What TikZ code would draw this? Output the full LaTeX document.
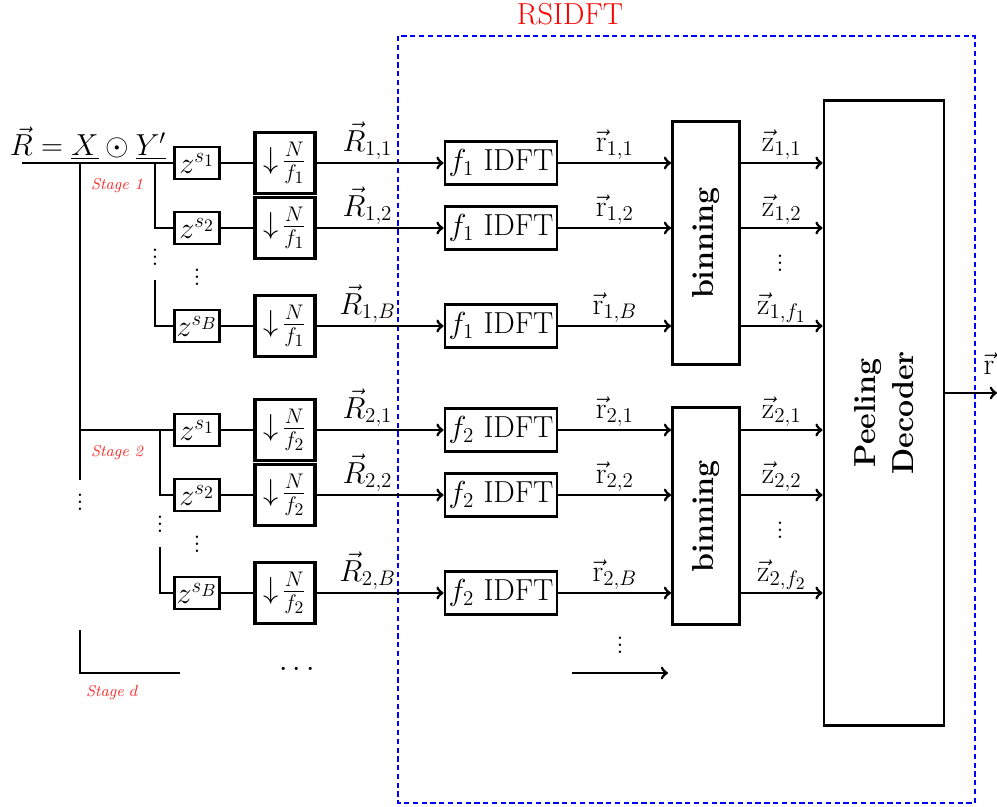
\documentclass[tikz,border=0pt]{standalone}
\providecommand{\RSpx}{0.02}
\providecommand{\RSbig}{\LARGE}
\providecommand{\RSstage}{\small\itshape}
\usepackage{tikz}
\tikzset{
  blk/.style={rectangle, draw=black, line width=1.6pt, fill=white,
              align=center, inner sep=1pt, font=\RSbig},
  zbox/.style={blk, minimum width=0.9cm, minimum height=0.64cm},
  dsbox/.style={blk, line width=2pt, minimum width=1.2cm, minimum height=1.22cm},
  idftbox/.style={blk, minimum width=2.24cm, minimum height=0.86cm},
  binbox/.style={blk, font=\RSbig\bfseries, rotate=90, minimum height=1.34cm},
  peelbox/.style={blk, font=\RSbig\bfseries, rotate=90,
                  minimum width=12.5cm, minimum height=2.4cm},
  wire/.style={draw=black, line width=1.6pt},
  flow/.style={wire, ->},
  lbl/.style={font=\RSbig, inner sep=1pt},
  stagelbl/.style={text=red!85, font=\RSstage},
  dots/.style={inner sep=0pt, font=\Large},
  frame/.style={draw=blue, line width=1.3pt, dash pattern=on 3pt off 2pt}
}
\begin{document}
\begin{tikzpicture}[x={\RSpx cm}, y={-\RSpx cm}]
\useasboundingbox (0,0) rectangle (997,807);

% RSIDFT frame
\draw[frame] (398,36) rectangle (975,803);
\node[text=red, font=\RSbig] (rsidft) at (570,14) {RSIDFT};

\node (peel) [peelbox] at (884,413) {Peeling\\Decoder};

% Input and trunk
\coordinate (in) at (22,163);
\coordinate (trunktop) at (80,163);
\coordinate (trunkcut) at (80,480);
\coordinate (trunkd) at (80,630);
\coordinate (stageend) at (180,673);
\node[font=\RSbig] (eq) at (88,143) {$\vec{R} = \underline{X} \odot \underline{Y'}$};
\node[dots] (trunkdots) at (80,497) {$\vdots$};
\node[stagelbl] (staged) at (112,693) {Stage $d$};
\node[font=\RSbig] (stagedots) at (297,670) {$\cdots$};

\foreach \s/\oy/\bx/\by/\bh in {1/0/155/243/4.86, 2/267/160/516/4.34}{

  \node[stagelbl] (stage\s) at (117,\oy+186) {Stage \s};
  \coordinate (br\s) at (\bx,\oy+163);
  \coordinate (brlow\s) at (\bx,\oy+280);
  \node[dots] (brdots\s) at (\bx,\oy+252) {$\vdots$};
  \node[dots] (zdots\s) at (197,\oy+272) {$\vdots$};
  \node[dots] (zldots\s) at (780,\oy+258) {$\vdots$};
  \node (bin\s) [binbox, minimum width=\bh cm] at (706,\by) {binning};

  \foreach \r/\ry/\zr in {1/163/1, 2/228/2, B/326/{f_\s}}{

    \node (z\s-\r) [zbox] at (197,\oy+\ry) {$z^{s_\r}$};
    \node (ds\s-\r) [dsbox] at (285,\oy+\ry) {$\downarrow\!\frac{N}{f_\s}$};
    \node (idft\s-\r) [idftbox] at (501,\oy+\ry) {$f_\s$ IDFT};

    % Delay -> Downsample -> IDFT
    \draw[wire] (z\s-\r) -- (ds\s-\r);
    \draw[flow] (ds\s-\r) --
      node[lbl, above, pos=0.4] {$\vec{R}_{\s,\r}$} (idft\s-\r);

    % IDFT -> Binning -> Decoder
    \draw[flow] (idft\s-\r) --
      node[lbl, above] {$\vec{\mathrm{r}}_{\s,\r}$} (idft\s-\r -| bin\s.north);
    \draw[flow] (idft\s-\r -| bin\s.south) --
      node[lbl, above] {$\vec{\mathrm{z}}_{\s,\zr}$} (idft\s-\r -| peel.north);
  }

  % Branch -> Delays
  \draw[wire] (br\s) |- (z\s-2);
  \draw[wire] (brlow\s) |- (z\s-B);
}

% Trunk -> Stages
\draw[wire] (in) -- (z1-1);
\draw[wire] (trunktop) -- (trunkcut);
\draw[wire] (trunktop |- z2-1) -- (z2-1);
\draw[wire] (trunkd) |- (stageend);

% Last stage rows
\coordinate (rlast0) at (572,673);
\coordinate (rlast1) at (668,673);
\node[dots] (rdots) at (620,640) {$\vdots$};
\draw[flow] (rlast0) -- (rlast1);

% Decoder -> Output
\coordinate (out) at (997,393);
\draw[flow] (peel.south |- out) -- (out);
\node[font=\RSbig] (outlbl) at (989,364) {$\vec{\mathrm{r}}$};

\end{tikzpicture}
\end{document}
